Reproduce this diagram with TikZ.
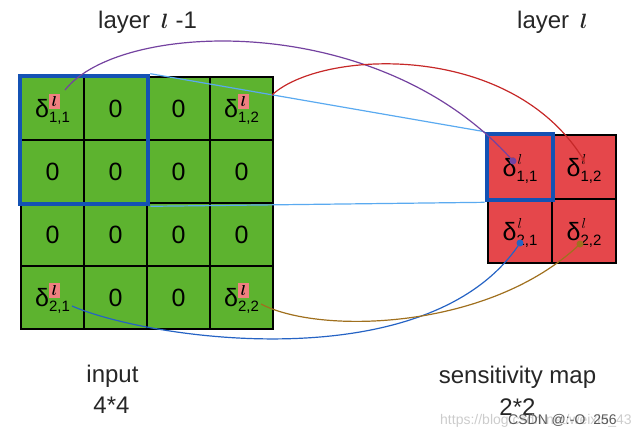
\documentclass[tikz,border=0pt]{standalone}
\usepackage{fontspec}
\setmainfont{Liberation Sans}
\usetikzlibrary{arrows.meta,fit}
\definecolor{cellgreen}{HTML}{5DB32F}
\definecolor{cellred}{HTML}{E5474B}
\definecolor{winblue}{HTML}{1452B4}
\definecolor{lineblue}{HTML}{5AAAF0}
\definecolor{cpurple}{HTML}{7442A0}
\definecolor{cred}{HTML}{C62828}
\definecolor{cblue}{HTML}{2563C4}
\definecolor{cbrown}{HTML}{A0701E}
\definecolor{supbox}{HTML}{F08080}
\newcommand{\dleft}[1]{δ\rlap{\raisebox{11pt}{\setlength{\fboxsep}{1pt}\colorbox{supbox}{\rule[-1pt]{0pt}{13pt}\makebox[9pt]{\fontsize{14}{14}\selectfont\boldmath$l$}}}}\raisebox{-5pt}{\fontsize{15}{15}\selectfont #1}}
\newcommand{\dright}[1]{δ\rlap{\raisebox{12pt}{\fontsize{14}{14}\selectfont\hspace{1pt}$l$}}\raisebox{-5pt}{\fontsize{15}{15}\selectfont #1}}
\tikzset{
  cellbase/.style={draw=black, line width=2.6pt, inner sep=0pt, text height=18pt, text depth=0pt, font=\fontsize{25}{25}\selectfont},
  lcell/.style={cellbase, fill=cellgreen, minimum size=63pt},
  rcell/.style={cellbase, fill=cellred, minimum size=64pt},
  win/.style={draw=winblue, line width=4pt, inner sep=0pt},
  guide/.style={draw=lineblue, line width=1.2pt},
  curve/.style={line width=1.2pt},
  title/.style={font=\fontsize{24}{24}\selectfont, text=black!85, inner sep=0pt, anchor=base},
  wmark/.style={font=\fontsize{14}{14}\selectfont, inner sep=0pt, anchor=base west}
}
\begin{document}
\begin{tikzpicture}[x=1pt,y=-1pt]
\useasboundingbox (0,0) rectangle (640,434);
% left grid
\node[lcell] (L11) at (52.5,108.5) {\dleft{1,1}};
\node[lcell] (L12) at (115.5,108.5) {0};
\node[lcell] (L13) at (178.5,108.5) {0};
\node[lcell] (L14) at (241.5,108.5) {\dleft{1,2}};
\node[lcell] (L21) at (52.5,171.5) {0};
\node[lcell] (L22) at (115.5,171.5) {0};
\node[lcell] (L23) at (178.5,171.5) {0};
\node[lcell] (L24) at (241.5,171.5) {0};
\node[lcell] (L31) at (52.5,234.5) {0};
\node[lcell] (L32) at (115.5,234.5) {0};
\node[lcell] (L33) at (178.5,234.5) {0};
\node[lcell] (L34) at (241.5,234.5) {0};
\node[lcell] (L41) at (52.5,297.5) {\dleft{2,1}};
\node[lcell] (L42) at (115.5,297.5) {0};
\node[lcell] (L43) at (178.5,297.5) {0};
\node[lcell] (L44) at (241.5,297.5) {\dleft{2,2}};
% right grid
\node[rcell] (R11) at (520,167) {\dright{1,1}};
\node[rcell] (R12) at (584,167) {\dright{1,2}};
\node[rcell] (R21) at (520,231) {\dright{2,1}};
\node[rcell] (R22) at (584,231) {\dright{2,2}};
% windows
\node[win, fit=(L11)(L22)] (W) {};
\node[win, fit=(R11)] (WR) {};
% guide lines
\draw[guide] (W.north east) -- (WR.north west);
\draw[guide] (W.south east) -- (WR.south west);
% curve end points
\coordinate (ps) at (65,90);
\coordinate (pe) at (513,161);
\coordinate (rs) at (272,95);
\coordinate (re) at (585,162);
\coordinate (bs) at (72,306);
\coordinate (be) at (520,243);
\coordinate (ns) at (261,304);
\coordinate (ne) at (580,244);
\draw[curve, cpurple] (ps) .. controls (120,20) and (380,10) .. (pe);
\fill[cpurple] (pe) circle (3.5);
\draw[curve, cred, -{Stealth[length=5pt,width=4pt]}] (rs) .. controls (320,50) and (510,40) .. (re);
\draw[curve, cblue] (bs) .. controls (150,340) and (430,380) .. (be);
\fill[cblue] (be) circle (3.5);
\draw[curve, cbrown] (ns) .. controls (320,335) and (490,330) .. (ne);
\fill[cbrown] (ne) circle (3.5);
% titles
\node[title, anchor=base west] (T1) at (98,28) {layer\hspace{11pt}{\fontsize{22}{22}\selectfont\boldmath$l$}\hspace{7pt}-1};
\node[title, anchor=base west] (T2) at (517,28) {layer\hspace{11pt}{\fontsize{22}{22}\selectfont\boldmath$l$}};
\node[title] (B1) at (112.5,382) {input};
\node[title] (B2) at (111.5,413) {4*4};
\node[title] (B3) at (517.5,383) {sensitivity map};
\node[title] (B4) at (517.5,415) {2*2};
% watermark
\node[wmark, text=black!20] (M1) at (440,424) {https://blog.csdn.net/weixin\_43};
\node[wmark, text=black!65] (M2) at (508,424) {CSDN @:-O\hspace{8pt}256};
\end{tikzpicture}
\end{document}
